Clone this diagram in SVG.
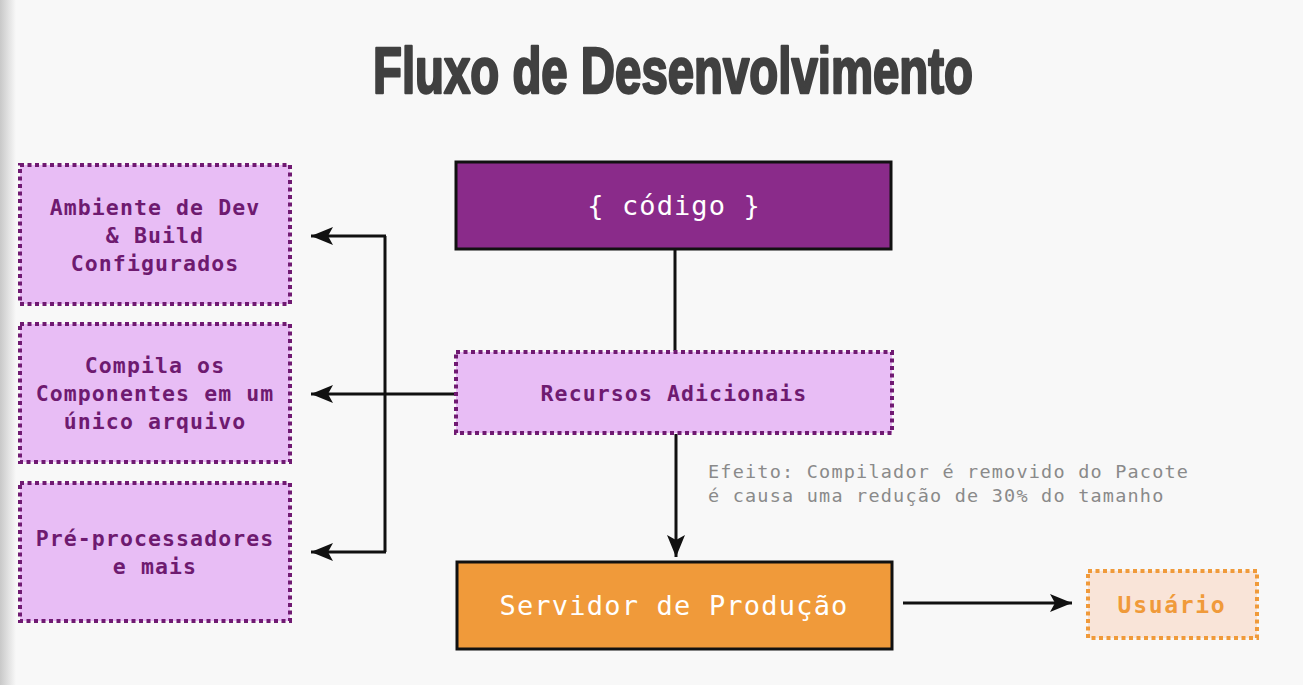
<svg xmlns="http://www.w3.org/2000/svg" width="1303" height="685" viewBox="0 0 1303 685">
<defs>
<linearGradient id="edge" x1="0" y1="0" x2="1" y2="0">
<stop offset="0" stop-color="#c8c8c8"/>
<stop offset="1" stop-color="#f8f8f8"/>
</linearGradient>
<marker id="arr" viewBox="0 0 22 18" refX="22" refY="9" markerWidth="22" markerHeight="18" markerUnits="userSpaceOnUse" orient="auto">
<path d="M0,0 L22,9 L0,18 L5,9 Z" fill="#111"/>
</marker>
<style>
.purp{fill:#e8bdf5;stroke:#701a72;stroke-width:4;stroke-dasharray:4 3.5}
.purpt{font-family:"DejaVu Sans Mono",monospace;font-weight:bold;font-size:21.5px;letter-spacing:1.1px;fill:#6e1a70;text-anchor:middle}
.solid{stroke:#111;stroke-width:3}
.wt{font-family:"DejaVu Sans Mono",monospace;font-size:27px;fill:#fff;text-anchor:middle}
.conn{fill:none;stroke:#111;stroke-width:3}
.note{font-family:"DejaVu Sans Mono",monospace;font-size:18.5px;letter-spacing:1.2px;fill:#8a8a8a}
</style>
</defs>
<rect width="1303" height="685" fill="#f8f8f8"/>
<rect width="16" height="685" fill="url(#edge)"/>
<text x="673" y="93" font-family="'Liberation Sans',sans-serif" font-weight="bold" font-size="64" fill="#404040" stroke="#404040" stroke-width="2.5" stroke-linejoin="round" text-anchor="middle" textLength="600" lengthAdjust="spacingAndGlyphs">Fluxo de Desenvolvimento</text>

<g id="connectors">
<path class="conn" d="M675,250 L675,351"/>
<path class="conn" d="M455,394 L311,394" marker-end="url(#arr)"/>
<path class="conn" d="M385,236 L385,552"/>
<path class="conn" d="M386,236 L311,236" marker-end="url(#arr)"/>
<path class="conn" d="M386,552 L311,552" marker-end="url(#arr)"/>
<path class="conn" d="M676,434 L676,557" marker-end="url(#arr)"/>
<path class="conn" d="M903,603 L1072,603" marker-end="url(#arr)"/>
</g>

<g id="ambiente">
<rect class="purp" x="20" y="165" width="270" height="139"/>
<text class="purpt" x="155" y="215">Ambiente de Dev</text>
<text class="purpt" x="155" y="243">&amp; Build</text>
<text class="purpt" x="155" y="271">Configurados</text>
</g>
<g id="compila">
<rect class="purp" x="20" y="324" width="270" height="138"/>
<text class="purpt" x="155" y="373">Compila os</text>
<text class="purpt" x="155" y="401">Componentes em um</text>
<text class="purpt" x="155" y="429">único arquivo</text>
</g>
<g id="pre">
<rect class="purp" x="20" y="483" width="270" height="138"/>
<text class="purpt" x="155" y="546">Pré-processadores</text>
<text class="purpt" x="155" y="574">e mais</text>
</g>
<g id="codigo">
<rect class="solid" x="456" y="162" width="435" height="87" fill="#8a2b8a"/>
<text class="wt" x="674" y="215" letter-spacing="1.1">{ código }</text>
</g>
<g id="recursos">
<rect class="purp" x="456" y="352" width="436" height="81"/>
<text class="purpt" x="674" y="401" font-size="23.5" letter-spacing="1.5">Recursos Adicionais</text>
</g>
<text class="note" x="708" y="478">Efeito: Compilador é removido do Pacote</text>
<text class="note" x="708" y="502">é causa uma redução de 30% do tamanho</text>
<g id="servidor">
<rect class="solid" x="457" y="562" width="435" height="87" fill="#f09a3a"/>
<text class="wt" x="674" y="615" letter-spacing="1.2">Servidor de Produção</text>
</g>
<g id="usuario">
<rect x="1088" y="571" width="169" height="67" fill="#f9e4d8" stroke="#f09a3a" stroke-width="4" stroke-dasharray="4 3.5"/>
<text x="1172" y="613" font-family="'DejaVu Sans Mono',monospace" font-weight="bold" font-size="23" letter-spacing="1.7" fill="#f09a3a" text-anchor="middle">Usuário</text>
</g>
</svg>
